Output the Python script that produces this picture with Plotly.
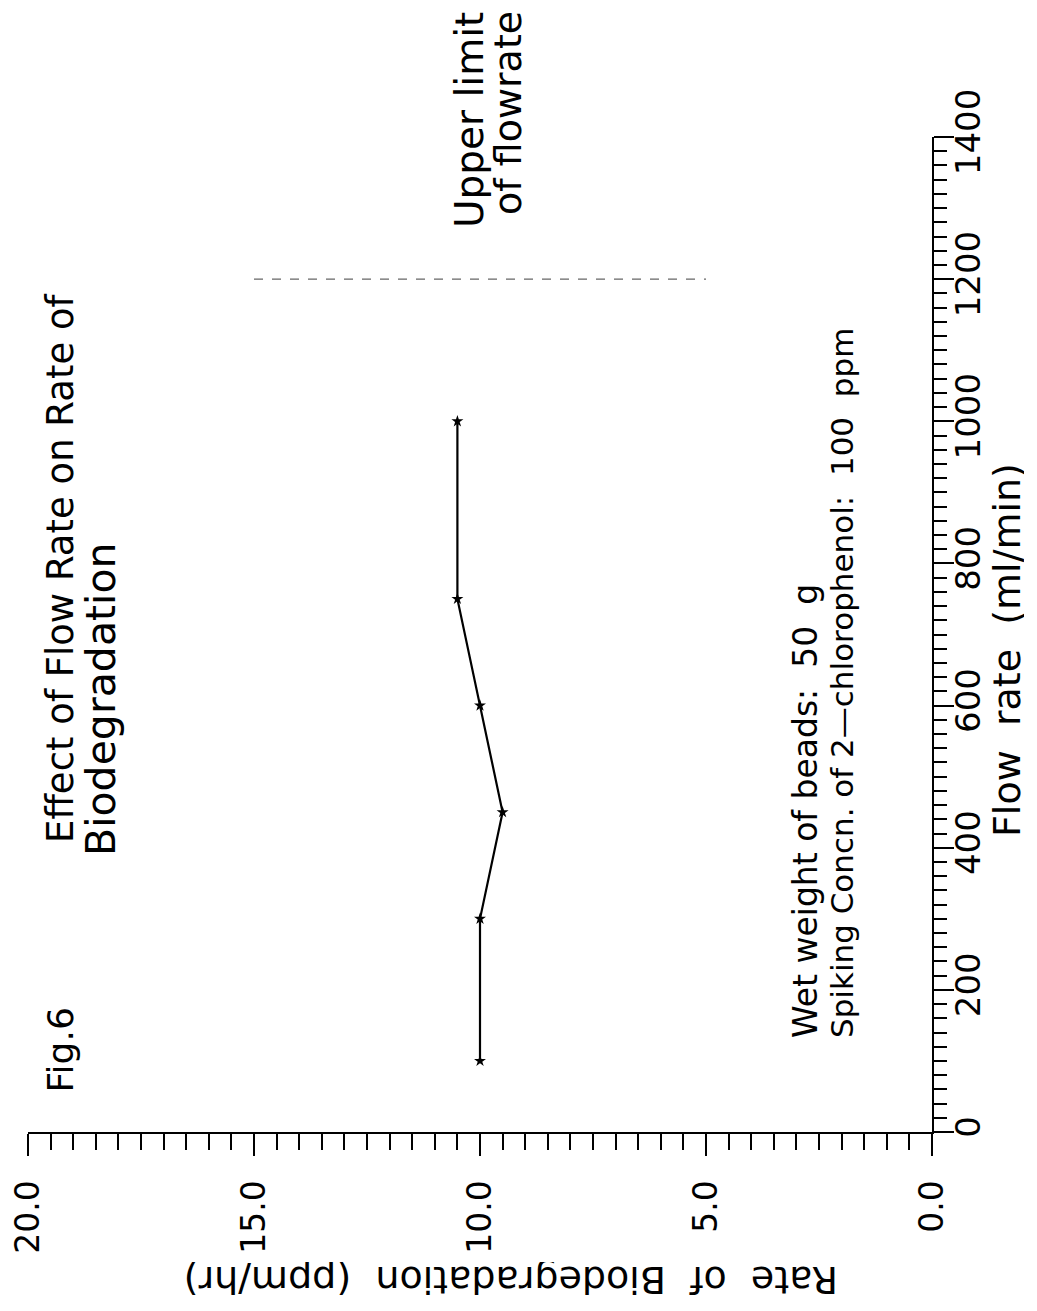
import plotly.graph_objects as go

# ---- data ----
flow_rate = [100, 300, 450, 600, 750, 1000]          # ml/min
biodeg_rate = [10.0, 10.0, 9.5, 10.0, 10.5, 10.5]    # ppm/hr

limit_flow = [1200, 1200]     # upper limit of flowrate
limit_rate = [15.0, 5.0]

rate_ticks = [0, 5, 10, 15, 20]
flow_ticks = [0, 200, 400, 600, 800, 1000, 1200, 1400]

PAGE_W, PAGE_H = 1037, 1311
OFF = 8                       # default page body margin
W, H = PAGE_W - 2 * OFF, PAGE_H - 2 * OFF
FONT = "DejaVu Sans"


def px(x):
    return (x - OFF) / W


def py(y):
    return 1 - (y - OFF) / H


fig = go.Figure()

fig.add_trace(go.Scatter(
    x=limit_rate, y=limit_flow, mode="lines",
    line=dict(color="#666666", width=1.2, dash="dash"),
    hoverinfo="skip", showlegend=False,
))

fig.add_trace(go.Scatter(
    x=biodeg_rate, y=flow_rate, mode="lines+markers",
    line=dict(color="black", width=2.2),
    marker=dict(symbol="star", size=9, color="black"),
    showlegend=False,
))

annotations = []


def rot_text(text, xc, ybottom, size, angle=-90):
    annotations.append(dict(
        x=px(xc), y=py(ybottom), xref="paper", yref="paper",
        text=text, showarrow=False, textangle=angle,
        xanchor="center", yanchor="bottom",
        font=dict(family=FONT, size=size, color="black"),
    ))


rot_text("Fig.6", 60, 1095, 36)
rot_text("Effect of Flow Rate on Rate of", 60, 845, 37)
rot_text("Biodegradation", 101, 858, 41)
rot_text("Upper limit", 469, 230, 39)
rot_text("of flowrate", 508, 217, 38)
rot_text("Wet weight of beads:  50  g", 805, 1040, 33)
rot_text("Spiking Concn. of 2—chlorophenol:  100  ppm", 842, 1040, 31)

# axis titles
annotations.append(dict(
    x=px(1007), y=py(650), xref="paper", yref="paper",
    text="Flow  rate  (ml/min)", showarrow=False, textangle=-90,
    xanchor="center", yanchor="middle", height=34,
    font=dict(family=FONT, size=38, color="black"),
))
annotations.append(dict(
    x=px(511), y=py(1280), xref="paper", yref="paper",
    text="Rate  of  Biodegradation  (ppm/hr)", showarrow=False, textangle=180,
    xanchor="center", yanchor="middle", height=36,
    font=dict(family=FONT, size=38, color="black"),
))

fig.update_layout(
    width=W, height=H,
    margin=dict(l=0, r=0, t=0, b=0, pad=0, autoexpand=False),
    paper_bgcolor="white", plot_bgcolor="white",
    annotations=annotations,
    xaxis=dict(
        domain=[px(28), px(932)],
        range=[20, 0], autorange=False,
        tickmode="array", tickvals=rate_ticks,
        ticktext=[f"{v:.1f}" for v in rate_ticks],
        tickangle=-90,
        ticks="outside", ticklen=22, tickwidth=2, tickcolor="black",
        minor=dict(dtick=0.5, ticks="outside", ticklen=16, tickwidth=2, tickcolor="black"),
        showline=True, linecolor="black", linewidth=2,
        showgrid=False, zeroline=False,
        side="bottom", automargin=False,
        ticklabelstandoff=11, ticklabeloverflow="allow",
        tickfont=dict(family=FONT, size=33, color="black"),
    ),
    yaxis=dict(
        domain=[py(1132), py(137)],
        range=[0, 1400], autorange=False,
        tickmode="array", tickvals=flow_ticks,
        tickangle=-90,
        ticks="outside", ticklen=20, tickwidth=2, tickcolor="black",
        minor=dict(dtick=20, ticks="outside", ticklen=13, tickwidth=2, tickcolor="black"),
        showline=True, linecolor="black", linewidth=2,
        showgrid=False, zeroline=False,
        side="right", automargin=False,
        ticklabelstandoff=-15, ticklabeloverflow="allow",
        tickfont=dict(family=FONT, size=34, color="black"),
    ),
)

fig.write_html("out.html")
